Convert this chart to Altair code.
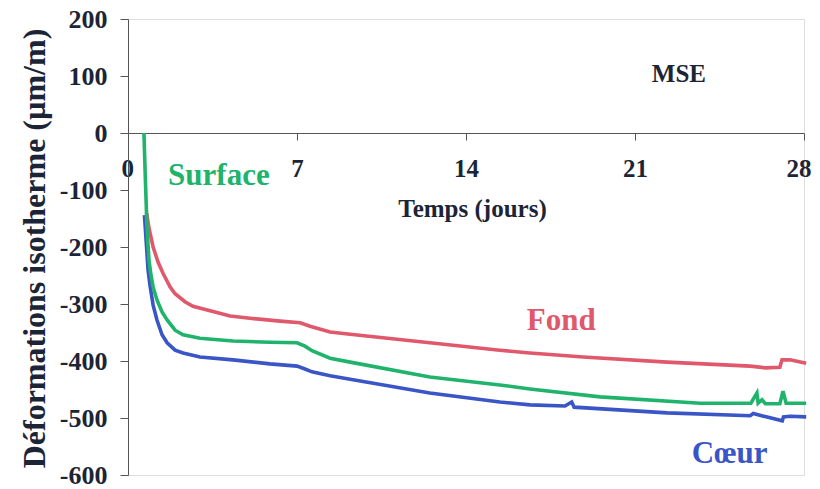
import altair as alt
import pandas as pd

# ---- data (days, µm/m) ----
fond_days = [0.77, 0.87, 1.04, 1.24, 1.45, 1.74, 1.95, 2.36, 2.69, 3.40, 4.23, 5.05, 6.30, 7.13,
             7.54, 8.37, 9.20, 12.5, 15.4, 16.65, 18.85, 22.33, 25.77, 26.4, 27.0, 27.09, 27.42, 28.09]
fond_vals = [-140, -167, -200, -226, -246, -270, -282, -296, -304, -312, -321, -325, -330, -333,
             -339, -349, -353, -368, -381, -386, -393, -402, -409, -412, -411, -398, -398, -404]

surf_days = [0.66, 0.72, 0.79, 0.87, 0.95, 1.04, 1.20, 1.41, 1.62, 1.95, 2.28, 2.98, 4.35, 5.88,
             7.00, 7.33, 7.62, 8.37, 9.20, 12.5, 15.4, 16.65, 19.55, 23.7, 25.8, 26.05, 26.1,
             26.26, 26.4, 27.0, 27.13, 27.26, 28.09]
surf_vals = [0, -82, -170, -223, -249, -270, -293, -314, -328, -346, -354, -360, -365, -367,
             -368, -374, -382, -395, -402, -428, -442, -449, -463, -474, -474, -456, -474,
             -468, -475, -475, -453, -474, -474]

coeur_days = [0.68, 0.75, 0.83, 0.91, 1.04, 1.20, 1.41, 1.62, 1.95, 2.28, 2.98, 4.35, 5.88, 7.00,
              7.33, 7.62, 8.37, 9.20, 12.5, 15.4, 16.65, 18.1, 18.38, 18.48, 22.33, 25.77, 25.9,
              26.43, 27.1, 27.15, 27.42, 28.09]
coeur_vals = [-144, -188, -240, -267, -302, -328, -354, -368, -381, -386, -393, -398, -405, -409,
              -414, -419, -426, -432, -456, -472, -477, -479, -472, -481, -491, -496, -492,
              -498, -505, -498, -497, -498]

x_ticks = [0, 7, 14, 21, 28]
y_ticks = [-600, -500, -400, -300, -200, -100, 0, 100, 200]

label_text = ["Surface", "Fond", "Cœur"]
label_day = [1.66, 16.52, 23.35]
label_val = [-91, -346, -579]
label_color = ["#20b36c", "#e0586c", "#3a55c6"]

FONT = "'Liberation Serif', 'Times New Roman', Times, serif"
INK = "#1c2536"

def series_df(days, vals):
    return pd.DataFrame({"jour": days, "def": vals})

xscale = alt.Scale(domain=[0, 28], nice=False)
yscale = alt.Scale(domain=[-600, 200], nice=False, zero=False)

xaxis = alt.Axis(values=x_ticks, offset=-342, tickSize=7, labelPadding=16,
                 labelFlush=True, labelFlushOffset=7,
                 labelFont=FONT, labelFontSize=25, labelFontWeight="bold", labelColor=INK,
                 domainColor="#555555", tickColor="#555555", grid=False,
                 title="Temps (jours)", titleFont=FONT, titleFontSize=25, titleFontWeight="bold",
                 titleColor=INK, titleX=344, titleY=75, titleBaseline="middle", titleAlign="center")
yaxis = alt.Axis(values=y_ticks, tickSize=8, labelPadding=13, labelFlush=False,
                 labelExpr="toString(datum.value)",
                 labelFont=FONT, labelFontSize=26, labelFontWeight="bold", labelColor=INK,
                 domainColor="#555555", tickColor="#555555", grid=False,
                 title="Déformations isotherme (µm/m)", titleFont=FONT, titleFontSize=32,
                 titleFontWeight="bold", titleColor=INK, titleX=-94, titleY=229,
                 titleAngle=270, titleBaseline="middle", titleAlign="center")

def line(df, color):
    return alt.Chart(df).mark_line(color=color, strokeWidth=3.6).encode(
        x=alt.X("jour:Q", scale=xscale, axis=xaxis),
        y=alt.Y("def:Q", scale=yscale, axis=yaxis),
    )

fond = line(series_df(fond_days, fond_vals), label_color[1])
coeur = line(series_df(coeur_days, coeur_vals), label_color[2])
surf = line(series_df(surf_days, surf_vals), label_color[0])

labels_df = pd.DataFrame({"t": label_text, "jour": label_day, "def": label_val, "c": label_color})
labels = alt.Chart(labels_df).mark_text(font=FONT, fontSize=31, fontWeight="bold",
                                         align="left", baseline="alphabetic").encode(
    x=alt.X("jour:Q", scale=xscale),
    y=alt.Y("def:Q", scale=yscale),
    text="t:N",
    color=alt.Color("c:N", scale=None),
)

mse = alt.Chart(pd.DataFrame({"t": ["MSE"], "jour": [22.82], "def": [90]})).mark_text(
    font=FONT, fontSize=25, fontWeight="bold", align="center", baseline="alphabetic", color=INK
).encode(x=alt.X("jour:Q", scale=xscale), y=alt.Y("def:Q", scale=yscale), text="t:N")

chart = alt.layer(fond, coeur, surf, labels, mse).properties(
    width=676, height=456,
    autosize=alt.AutoSizeParams(type="none"),
    padding={"left": 120, "top": 11, "right": 8, "bottom": 12},
).configure_view(stroke=None).configure(background="white")

chart.save("out.html", embed_options={"renderer": "svg", "actions": False})
